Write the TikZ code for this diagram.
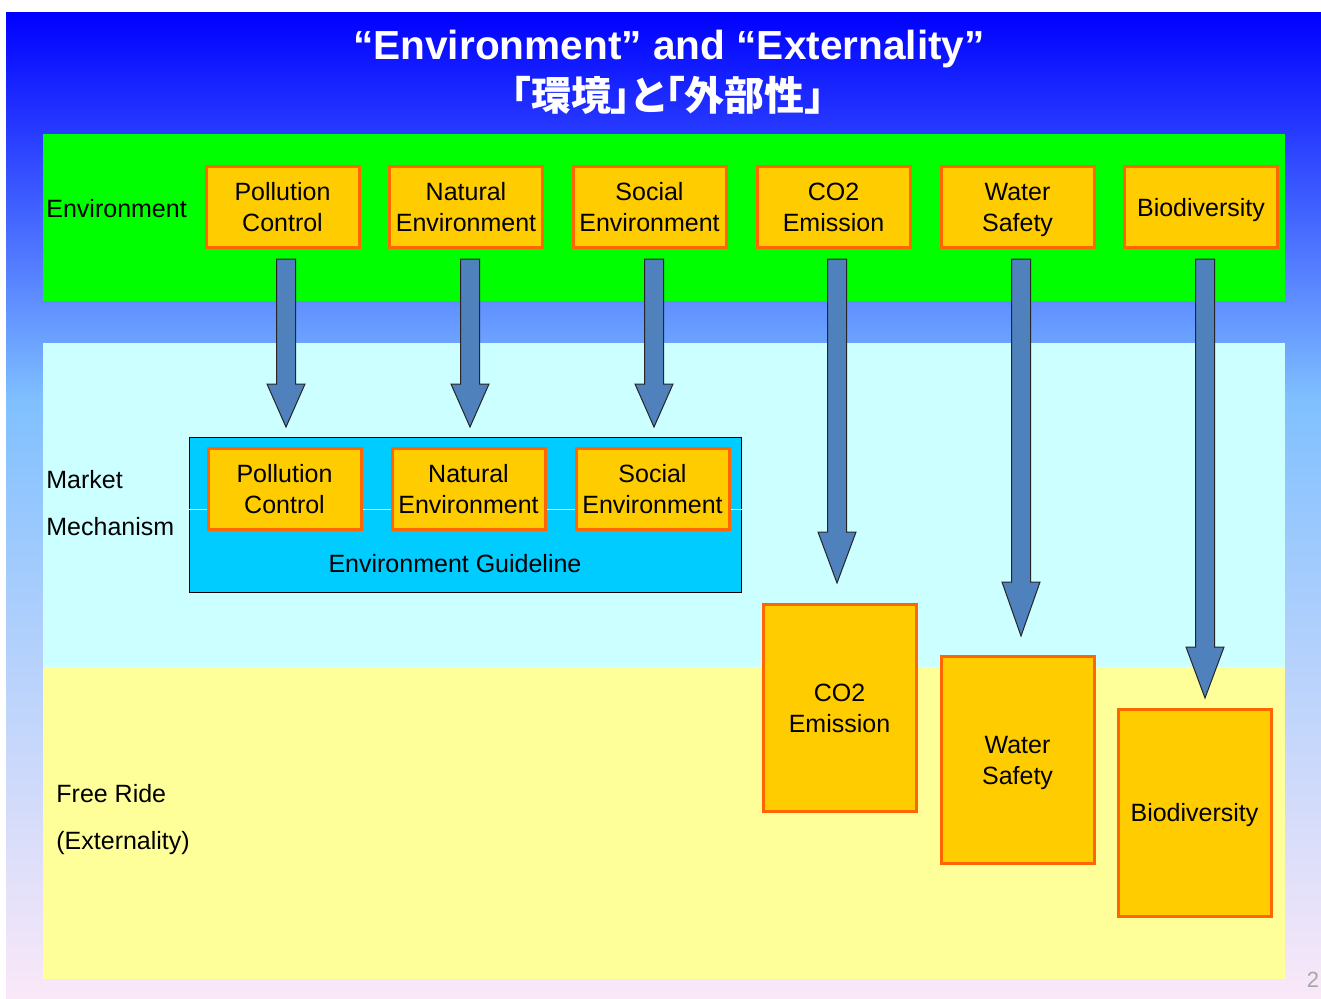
\documentclass[tikz,border=0pt]{standalone}
\usepackage{fontspec}
\setmainfont{Liberation Sans}
\newfontfamily\cjk{Noto Sans CJK JP}[RawFeature=+palt]
\usetikzlibrary{calc}
\definecolor{bgtop}{HTML}{0000FF}
\definecolor{bgmid}{HTML}{80C0FF}
\definecolor{bgbot}{HTML}{FAE8F8}
\definecolor{envgreen}{HTML}{00FF00}
\definecolor{mktcyan}{HTML}{CCFFFF}
\definecolor{freeyel}{HTML}{FFFF99}
\definecolor{guidecyan}{HTML}{00CCFF}
\definecolor{boxfill}{HTML}{FFCC00}
\definecolor{boxline}{HTML}{FF6600}
\definecolor{arrowblue}{HTML}{4F81BD}
\tikzset{
  box/.style={draw=boxline, line width=1.5pt, fill=boxfill, align=center,
    minimum width=76.5pt, minimum height=40.5pt, inner sep=0pt, text depth=0pt,
    font=\fontsize{12.5}{15.5}\selectfont},
  tallbox/.style={box, minimum height=103.5pt},
  lbl/.style={anchor=west, inner sep=0pt, align=left,
    font=\fontsize{12.5}{23.5}\selectfont},
  blockarrow/.style={draw=black!85, line width=0.5pt, fill=arrowblue, line join=miter},
}
% block arrow: start node, tip coordinate, head length
\newcommand\blockarrow[3]{%
  \path[blockarrow] let \p1=(#1.south), \p2=(#2) in
    (\x2-4.75pt,\y1-5pt) -- (\x2+4.75pt,\y1-5pt) -- (\x2+4.75pt,\y2+#3)
    -- (\x2+9.5pt,\y2+#3) -- (\x2,\y2) -- (\x2-9.5pt,\y2+#3)
    -- (\x2-4.75pt,\y2+#3) -- cycle;}
\begin{document}
\begin{tikzpicture}[x=0.5pt, y=-0.5pt]
  \useasboundingbox (0,0) rectangle (1321,998);
  % slide background
  \shade[top color=bgtop, bottom color=bgmid] (6,12) rectangle (1321,401);
  \shade[top color=bgmid, bottom color=bgbot] (6,400) rectangle (1321,998);
  \fill[envgreen] (43,134) rectangle (1285,301);
  \fill[mktcyan] (43,343) rectangle (1285,667);
  \fill[freeyel] (43,667) rectangle (1285,979);
  \draw
    (669,45) node[text=white, text depth=0pt, font=\fontsize{20.3}{20}\selectfont\bfseries] (title)
      {“Environment” and “Externality”}
    (668,95) node[text=white, font=\fontsize{20}{20}\selectfont\cjk\bfseries] (titlejp)
      {「環境」と「外部性」};
  \draw
    (46,209) node[lbl] (envlbl) {Environment}
    (46,503.5) node[lbl] (mktlbl) {Market\\Mechanism}
    (56,819.5) node[lbl] (freelbl) {Free Ride\\(Externality)};
  \draw
    (282.5,207) node[box] (pc) {Pollution\\Control}
    (466,207) node[box] (ne) {Natural\\Environment}
    (649.5,207) node[box] (se) {Social\\Environment}
    (833.5,207) node[box] (co) {CO2\\Emission}
    (1017.5,207) node[box] (ws) {Water\\Safety}
    (1201,207) node[box] (bd) {Biodiversity};
  % environment guideline
  \draw (465.5,515) node[draw=black, line width=0.75pt, fill=guidecyan,
    minimum width=276pt, minimum height=77.5pt] (guide) {};
  \draw[white, line width=0.5pt] (guide.west |- 0,509) -- (guide.east |- 0,509);
  \draw
    (284.5,488.5) node[box] (mpc) {Pollution\\Control}
    (468.5,488.5) node[box] (mne) {Natural\\Environment}
    (652.5,488.5) node[box] (mse) {Social\\Environment}
    (455,564) node[font=\fontsize{12.5}{15.5}\selectfont] (guidelbl) {Environment Guideline};
  % free ride
  \draw
    (839.5,708) node[tallbox] (fco) {CO2\\Emission}
    (1017.5,760) node[tallbox] (fws) {Water\\Safety}
    (1194.5,812.5) node[tallbox] (fbd) {Biodiversity};
  % arrow tips
  \coordinate (t1) at (286,427);
  \coordinate (t2) at (470,427);
  \coordinate (t3) at (654,427);
  \coordinate (t4) at (837,583);
  \coordinate (t5) at (1021,636);
  \coordinate (t6) at (1205,698);
  \begin{scope}
    \blockarrow{pc}{t1}{21.5pt}
    \blockarrow{ne}{t2}{21.5pt}
    \blockarrow{se}{t3}{21.5pt}
    \blockarrow{co}{t4}{25.5pt}
    \blockarrow{ws}{t5}{27pt}
    \blockarrow{bd}{t6}{25.5pt}
  \end{scope}
  \draw (1313,980) node[text=black!35, font=\fontsize{11}{11}\selectfont] (page) {2};
\end{tikzpicture}
\end{document}
